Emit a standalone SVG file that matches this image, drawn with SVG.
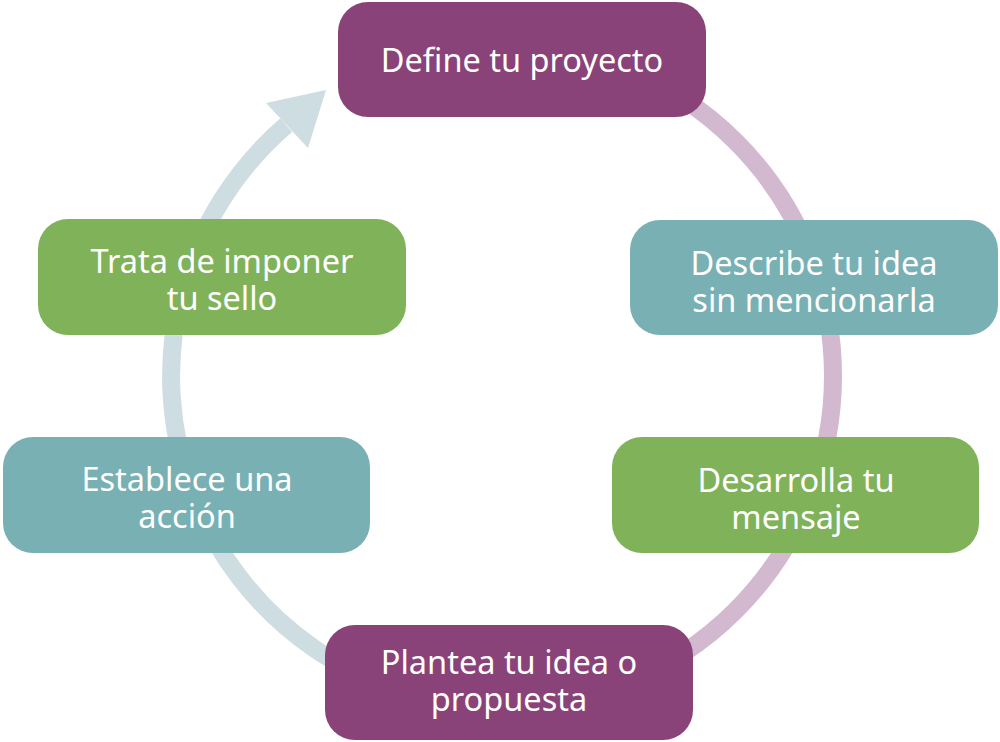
<svg xmlns="http://www.w3.org/2000/svg" width="1000" height="742" viewBox="0 0 1000 742">
<style>
.box{stroke:none}
.purple{fill:#8a4379}
.teal{fill:#78b0b4}
.green{fill:#80b25a}
.lbl{font-family:"Noto Sans","Open Sans",sans-serif;font-size:32.5px;fill:#ffffff;text-anchor:middle}
.ring{fill:none;stroke-width:18}
</style>
<rect width="1000" height="742" fill="#ffffff"/>
<g id="connectors">
<path class="ring" stroke="#d3b9cf" d="M502,45 A331,331 0 0 1 502,707"/>
<path class="ring" stroke="#cddde2" d="M502,707 A331,331 0 0 1 286.2,125.1"/>
<polygon fill="#cddde2" points="326,90 266,103 308,148"/>
</g>
<g id="n1"><rect class="box purple" x="338" y="2" width="368" height="115" rx="30"/><text class="lbl" x="522" y="72">Define tu proyecto</text></g>
<g id="n2"><rect class="box teal" x="630" y="220" width="368" height="115" rx="30"/><text class="lbl" x="814" y="275">Describe tu idea</text><text class="lbl" x="814" y="312">sin mencionarla</text></g>
<g id="n3"><rect class="box green" x="612" y="437" width="367" height="116" rx="30"/><text class="lbl" x="796" y="492">Desarrolla tu</text><text class="lbl" x="796" y="529">mensaje</text></g>
<g id="n4"><rect class="box purple" x="325" y="625" width="368" height="115" rx="30"/><text class="lbl" x="509" y="674">Plantea tu idea o</text><text class="lbl" x="509" y="711">propuesta</text></g>
<g id="n5"><rect class="box teal" x="3" y="437" width="367" height="116" rx="30"/><text class="lbl" x="187" y="491">Establece una</text><text class="lbl" x="187" y="528">acción</text></g>
<g id="n6"><rect class="box green" x="38" y="219" width="368" height="116" rx="30"/><text class="lbl" x="222" y="273">Trata de imponer</text><text class="lbl" x="222" y="310">tu sello</text></g>
</svg>
